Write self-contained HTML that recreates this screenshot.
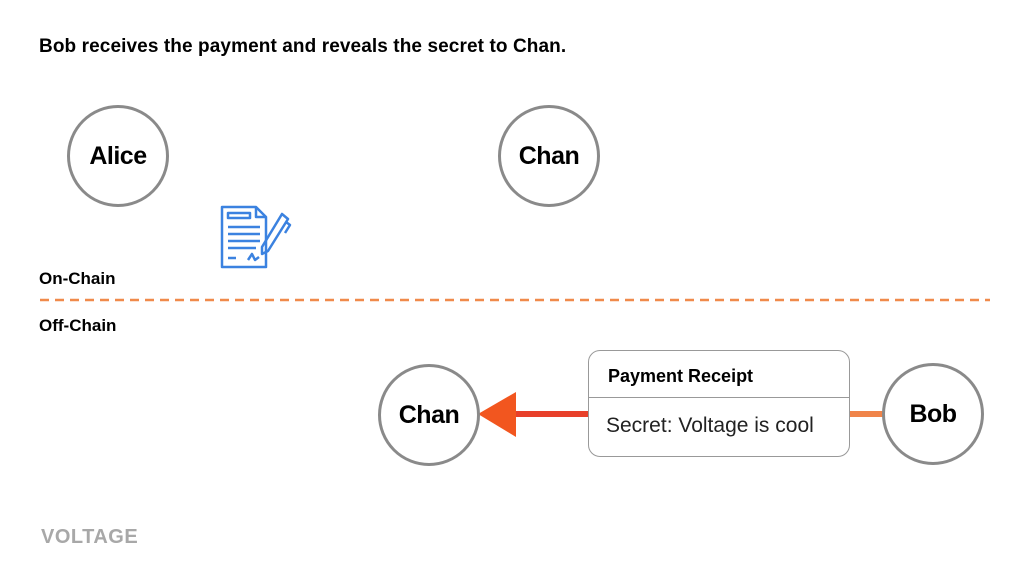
<!DOCTYPE html>
<html><head><style>
body{margin:0;width:1024px;height:576px;background:#fff;position:relative;overflow:hidden;font-family:"Liberation Sans",sans-serif;}
.t{position:absolute;font-weight:bold;color:#000;}
.c{position:absolute;width:98px;height:98px;border:3px solid #8a8a8a;border-radius:50%;box-sizing:border-box;display:flex;align-items:center;justify-content:center;font-weight:bold;font-size:25px;letter-spacing:-0.5px;background:#fff;}
</style></head><body>
<div class="t" style="left:39px;top:36px;font-size:19px;letter-spacing:0.1px">Bob receives the payment and reveals the secret to Chan.</div>
<div class="c" style="left:67px;top:105px;width:102px;height:102px">Alice</div>
<div class="c" style="left:498px;top:105px;width:102px;height:102px">Chan</div>
<div class="t" style="left:39px;top:269px;font-size:17px">On-Chain</div>
<div class="t" style="left:39px;top:316px;font-size:17px">Off-Chain</div>
<svg style="position:absolute;left:0;top:0" width="1024" height="576">
<line x1="40" y1="300" x2="990" y2="300" stroke="#f08a4b" stroke-width="2.5" stroke-dasharray="9,6"/>
<g fill="none" stroke="#3b82e0" stroke-width="2.5" stroke-linejoin="round">
<path d="M222 207 h34 l10 10 v50 h-44 z"/>
<path d="M256 207 v10 h10"/>
<rect x="228" y="213" width="22" height="5"/>
<path d="M228 227h32M228 234h32M228 241h32M228 248h28M228 258h8M248 260l4-6 3 6 4-3"/>
<path d="M282 214l6 5-20 32-6 3 0-7z"/>
<path d="M286 222l4 3-5 8"/>
</g>
<rect x="505" y="411" width="85" height="6" fill="#e8402a"/>
<polygon points="478,414 516,392 516,437" fill="#f2561f"/>
<line x1="848" y1="414" x2="884" y2="414" stroke="#f0844a" stroke-width="6"/>
</svg>
<div class="c" style="left:378px;top:364px;width:102px;height:102px">Chan</div>
<div class="c" style="left:882px;top:363px;width:102px;height:102px">Bob</div>
<div style="position:absolute;left:588px;top:350px;width:262px;height:107px;border:1.5px solid #999;border-radius:12px;box-sizing:border-box;background:#fff">
<div style="height:46px;border-bottom:1.5px solid #999;font-weight:bold;font-size:18px;line-height:50px;padding-left:19px">Payment Receipt</div>
<div style="font-size:21px;line-height:56px;padding-left:17px;color:#222">Secret: Voltage is cool</div>
</div>
<div class="t" style="left:41px;top:526px;font-size:20px;color:#a8a8a8;letter-spacing:0.5px;font-weight:900">VOLTAGE</div>
</body></html>
